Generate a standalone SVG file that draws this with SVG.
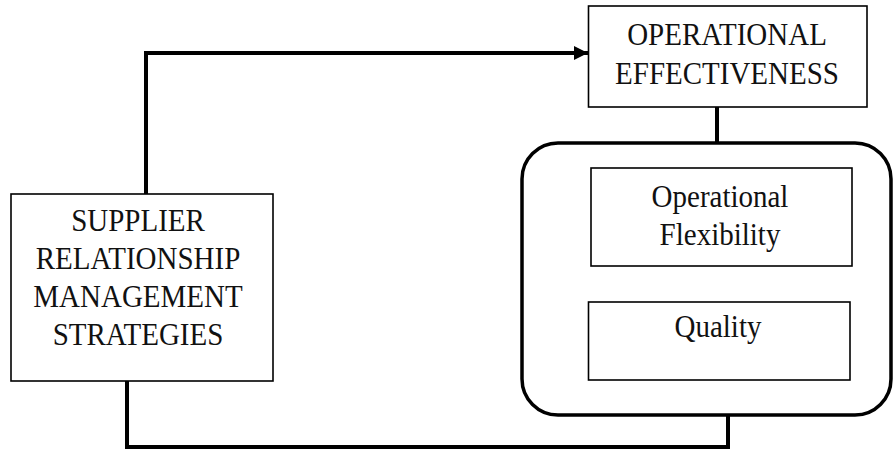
<svg xmlns="http://www.w3.org/2000/svg" width="894" height="451" viewBox="0 0 894 451">
<style>
.box{fill:#fff;stroke:#000;stroke-width:1.6}
.group{fill:none;stroke:#000;stroke-width:3.5}
.conn{fill:none;stroke:#000;stroke-width:4}
text{font-family:"Liberation Serif","Times New Roman",serif;font-size:29px;fill:#111;text-anchor:middle}
</style>
<defs>
<marker id="ah" markerUnits="userSpaceOnUse" markerWidth="15" markerHeight="16" refX="14" refY="8" orient="auto">
<path d="M0,1 L14,8 L0,15 Z" fill="#000"/>
</marker>
</defs>
<g id="connectors">
<path class="conn" d="M146,194 V53 H588" marker-end="url(#ah)"/>
<path class="conn" d="M717,107 V143"/>
<path class="conn" d="M127,381 V447 H728 V415"/>
</g>
<g id="effectiveness-group">
<rect class="group" x="522" y="143" width="369" height="272" rx="36" ry="36"/>
</g>
<g id="operational-effectiveness">
<rect class="box" x="588.5" y="6" width="278.5" height="101"/>
<text transform="translate(727,44.5) scale(1,1.1)">OPERATIONAL</text>
<text transform="translate(727,84) scale(1,1.1)">EFFECTIVENESS</text>
</g>
<g id="srm-strategies">
<rect class="box" x="11" y="194" width="262" height="187"/>
<text transform="translate(138,231) scale(1,1.1)">SUPPLIER</text>
<text transform="translate(138,269) scale(1,1.1)">RELATIONSHIP</text>
<text transform="translate(138,307) scale(1,1.1)">MANAGEMENT</text>
<text transform="translate(138,345) scale(1,1.1)">STRATEGIES</text>
</g>
<g id="operational-flexibility">
<rect class="box" x="591" y="168" width="261" height="98"/>
<text transform="translate(720,207) scale(1,1.1)">Operational</text>
<text transform="translate(720,245) scale(1,1.1)">Flexibility</text>
</g>
<g id="quality">
<rect class="box" x="588.5" y="302" width="261.5" height="78"/>
<text transform="translate(718,337) scale(1,1.1)">Quality</text>
</g>
</svg>
